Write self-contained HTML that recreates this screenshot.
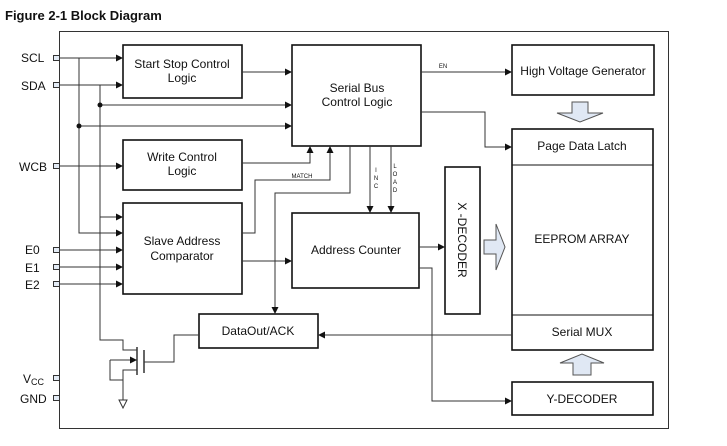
<!DOCTYPE html>
<html><head><meta charset="utf-8"><style>
html,body{margin:0;padding:0;background:#fff;width:727px;height:446px;overflow:hidden}
svg{display:block}
text{font-family:"Liberation Sans",Arial,sans-serif;fill:#111}
</style></head><body>
<svg width="727" height="446" viewBox="0 0 727 446" xmlns="http://www.w3.org/2000/svg">
<defs>
<marker id="a" viewBox="0 0 10 10" refX="10" refY="5" markerWidth="8" markerHeight="7" markerUnits="userSpaceOnUse" orient="auto"><path d="M0,0 L10,5 L0,10 z" fill="#111"/></marker>
</defs>
<text x="5" y="20" font-size="13" font-weight="bold">Figure 2-1 Block Diagram</text>
<rect x="59.5" y="31.5" width="609" height="397" fill="none" stroke="#333" stroke-width="1"/>

<!-- pins -->
<g font-size="12">
<text x="21" y="62">SCL</text><text x="21" y="90">SDA</text><text x="19" y="171">WCB</text>
<text x="25" y="254">E0</text><text x="25" y="272">E1</text><text x="25" y="289">E2</text>
<text x="23" y="383">V<tspan font-size="9" dy="2">CC</tspan></text><text x="20" y="403">GND</text>
</g>
<g fill="#e4ecf6" stroke="#333" stroke-width="1">
<rect x="53.5" y="55.5" width="6" height="5"/><rect x="53.5" y="82.5" width="6" height="5"/>
<rect x="53.5" y="163.5" width="6" height="5"/><rect x="53.5" y="247.5" width="6" height="5"/>
<rect x="53.5" y="264.5" width="6" height="5"/><rect x="53.5" y="281.5" width="6" height="5"/>
<rect x="53.5" y="375.5" width="6" height="5"/><rect x="53.5" y="395.5" width="6" height="5"/>
</g>

<!-- boxes -->
<g fill="none" stroke="#111" stroke-width="1.6">
<rect x="123" y="45" width="119" height="53"/>
<rect x="292" y="45" width="129" height="101"/>
<rect x="123" y="140" width="119" height="50"/>
<rect x="123" y="203" width="119" height="91"/>
<rect x="292" y="213" width="127" height="75"/>
<rect x="199" y="314" width="119" height="34"/>
<rect x="512" y="45" width="142" height="50"/>
<rect x="512" y="129" width="141" height="221"/>
<rect x="445" y="167" width="35" height="147"/>
<rect x="512" y="382" width="141" height="33"/>
</g>
<g stroke="#111" stroke-width="1"><line x1="512" y1="165" x2="653" y2="165"/><line x1="512" y1="315" x2="653" y2="315"/></g>

<g font-size="12" text-anchor="middle">
<text x="182" y="68">Start Stop Control</text><text x="182" y="82">Logic</text>
<text x="357" y="92">Serial Bus</text><text x="357" y="106">Control Logic</text>
<text x="182" y="161">Write Control</text><text x="182" y="175">Logic</text>
<text x="182" y="245">Slave Address</text><text x="182" y="260">Comparator</text>
<text x="356" y="254">Address Counter</text>
<text x="258" y="335">DataOut/ACK</text>
<text x="583" y="75">High Voltage Generator</text>
<text x="582" y="150">Page Data Latch</text>
<text x="582" y="243">EEPROM ARRAY</text>
<text x="582" y="336">Serial MUX</text>
<text x="582" y="403">Y-DECODER</text>
<text transform="translate(458,240) rotate(90)" x="0" y="0">X -DECODER</text>
</g>
<g font-size="6" text-anchor="middle">
<text x="443" y="68">EN</text><text x="302" y="178">MATCH</text>
<text x="376" y="172">I</text><text x="376" y="180">N</text><text x="376" y="188">C</text>
<text x="395" y="168">L</text><text x="395" y="176">O</text><text x="395" y="184">A</text><text x="395" y="192">D</text>
</g>

<!-- wires -->
<g fill="none" stroke="#333" stroke-width="1">
<line x1="59" y1="58" x2="123" y2="58" marker-end="url(#a)"/>
<line x1="59" y1="85" x2="123" y2="85" marker-end="url(#a)"/>
<line x1="59" y1="166" x2="123" y2="166" marker-end="url(#a)"/>
<line x1="59" y1="250" x2="123" y2="250" marker-end="url(#a)"/>
<line x1="59" y1="267" x2="123" y2="267" marker-end="url(#a)"/>
<line x1="59" y1="284" x2="123" y2="284" marker-end="url(#a)"/>
<polyline points="79,58 79,233 123,233" marker-end="url(#a)"/>
<line x1="79" y1="126" x2="292" y2="126" marker-end="url(#a)"/>
<line x1="100" y1="105" x2="292" y2="105" marker-end="url(#a)"/>
<line x1="100" y1="217" x2="123" y2="217" marker-end="url(#a)"/>
<polyline points="100,85 100,340 123,340 123,350 137,350"/>
<line x1="242" y1="72" x2="292" y2="72" marker-end="url(#a)"/>
<polyline points="242,163 310,163 310,146" marker-end="url(#a)"/>
<polyline points="242,233 255,233 255,180 330,180 330,146" marker-end="url(#a)"/>
<polyline points="350,146 350,193 275,193 275,314" marker-end="url(#a)"/>
<line x1="370" y1="146" x2="370" y2="213" marker-end="url(#a)"/>
<line x1="391" y1="146" x2="391" y2="213" marker-end="url(#a)"/>
<line x1="421" y1="72" x2="512" y2="72" marker-end="url(#a)"/>
<polyline points="421,112 485,112 485,147 512,147" marker-end="url(#a)"/>
<line x1="242" y1="261" x2="292" y2="261" marker-end="url(#a)"/>
<line x1="419" y1="247" x2="445" y2="247" marker-end="url(#a)"/>
<polyline points="419,268 432,268 432,401 512,401" marker-end="url(#a)"/>
<line x1="512" y1="335" x2="318" y2="335" marker-end="url(#a)"/>
<!-- transistor -->
<polyline points="199,335 174,335 174,362 144,362"/>
<line x1="144" y1="350" x2="144" y2="373" stroke-width="1.5"/>
<line x1="137" y1="347" x2="137" y2="375" stroke-width="1.5"/>
<polyline points="137,370 123,370 123,400"/>
<line x1="110" y1="360" x2="137" y2="360" marker-end="url(#a)"/>
<polyline points="110,360 110,380 123,380"/>
</g>
<path d="M119,400 L127,400 L123,408 z" fill="#fff" stroke="#333"/>
<g fill="#111"><circle cx="79" cy="126" r="2.5"/><circle cx="100" cy="105" r="2.5"/></g>

<!-- block arrows -->
<g fill="#e0e8f4" stroke="#555" stroke-width="1">
<path d="M572,102 L588,102 L588,113 L603,113 L580,122 L557,113 L572,113 z"/>
<path d="M484,240 L496,240 L496,224 L505,247 L496,270 L496,254 L484,254 z"/>
<path d="M573,375 L591,375 L591,363 L604,363 L582,354 L560,363 L573,363 z"/>
</g>
</svg>
</body></html>
